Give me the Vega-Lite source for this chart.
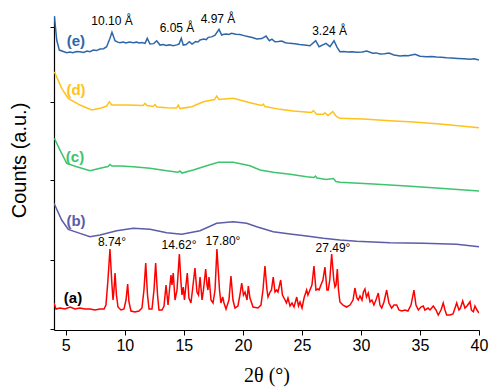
{
  "$schema": "https://vega.github.io/schema/vega-lite/v6.json",
  "width": 425,
  "height": 314,
  "autosize": {"type": "none"},
  "padding": {"left": 54, "top": 16, "right": 13, "bottom": 61},
  "background": "white",
  "config": {
    "view": {"stroke": null},
    "axis": {"domainColor": "#000", "tickColor": "#000", "labelColor": "#000", "titleColor": "#000", "grid": false, "domainWidth": 1.2, "tickWidth": 1}
  },
  "datasets": {
    "curves": [
      {"s":"a","x":4.00,"y":0.929},{"s":"a","x":4.17,"y":0.787},{"s":"a","x":4.51,"y":0.810},{"s":"a","x":4.93,"y":0.787},{"s":"a","x":5.36,"y":0.834},{"s":"a","x":5.78,"y":0.787},{"s":"a","x":6.20,"y":0.810},{"s":"a","x":6.63,"y":0.787},{"s":"a","x":7.05,"y":0.787},{"s":"a","x":7.47,"y":0.763},{"s":"a","x":7.90,"y":0.787},{"s":"a","x":8.24,"y":0.787},{"s":"a","x":8.40,"y":0.881},{"s":"a","x":8.57,"y":1.474},{"s":"a","x":8.74,"y":2.209},{"s":"a","x":8.91,"y":1.356},{"s":"a","x":9.00,"y":1.000},{"s":"a","x":9.08,"y":1.237},{"s":"a","x":9.17,"y":1.640},{"s":"a","x":9.29,"y":1.119},{"s":"a","x":9.42,"y":0.834},{"s":"a","x":9.67,"y":0.763},{"s":"a","x":9.93,"y":0.787},{"s":"a","x":10.10,"y":1.000},{"s":"a","x":10.24,"y":1.379},{"s":"a","x":10.35,"y":0.953},{"s":"a","x":10.52,"y":0.739},{"s":"a","x":10.86,"y":0.715},{"s":"a","x":11.20,"y":0.739},{"s":"a","x":11.45,"y":0.810},{"s":"a","x":11.62,"y":1.237},{"s":"a","x":11.77,"y":1.877},{"s":"a","x":11.92,"y":1.119},{"s":"a","x":12.05,"y":0.787},{"s":"a","x":12.30,"y":0.787},{"s":"a","x":12.47,"y":1.237},{"s":"a","x":12.61,"y":1.877},{"s":"a","x":12.77,"y":1.119},{"s":"a","x":12.89,"y":0.763},{"s":"a","x":13.15,"y":0.763},{"s":"a","x":13.32,"y":0.858},{"s":"a","x":13.49,"y":1.356},{"s":"a","x":13.66,"y":0.881},{"s":"a","x":13.78,"y":1.237},{"s":"a","x":13.91,"y":1.593},{"s":"a","x":13.99,"y":1.356},{"s":"a","x":14.10,"y":1.640},{"s":"a","x":14.25,"y":1.000},{"s":"a","x":14.42,"y":1.237},{"s":"a","x":14.62,"y":2.091},{"s":"a","x":14.76,"y":1.403},{"s":"a","x":14.84,"y":1.119},{"s":"a","x":14.95,"y":1.308},{"s":"a","x":15.05,"y":1.000},{"s":"a","x":15.18,"y":1.356},{"s":"a","x":15.29,"y":1.640},{"s":"a","x":15.43,"y":1.047},{"s":"a","x":15.60,"y":0.929},{"s":"a","x":15.73,"y":1.237},{"s":"a","x":15.94,"y":1.759},{"s":"a","x":16.11,"y":1.190},{"s":"a","x":16.24,"y":1.119},{"s":"a","x":16.37,"y":1.545},{"s":"a","x":16.54,"y":1.000},{"s":"a","x":16.66,"y":1.237},{"s":"a","x":16.85,"y":1.735},{"s":"a","x":16.96,"y":1.356},{"s":"a","x":17.04,"y":1.237},{"s":"a","x":17.13,"y":1.545},{"s":"a","x":17.30,"y":1.000},{"s":"a","x":17.47,"y":0.929},{"s":"a","x":17.64,"y":1.237},{"s":"a","x":17.80,"y":2.209},{"s":"a","x":18.02,"y":1.237},{"s":"a","x":18.14,"y":0.929},{"s":"a","x":18.29,"y":1.071},{"s":"a","x":18.40,"y":0.929},{"s":"a","x":18.57,"y":0.787},{"s":"a","x":18.82,"y":1.000},{"s":"a","x":18.99,"y":1.569},{"s":"a","x":19.16,"y":1.000},{"s":"a","x":19.33,"y":0.810},{"s":"a","x":19.58,"y":0.858},{"s":"a","x":19.75,"y":1.119},{"s":"a","x":19.90,"y":1.403},{"s":"a","x":20.05,"y":1.119},{"s":"a","x":20.18,"y":1.190},{"s":"a","x":20.35,"y":1.000},{"s":"a","x":20.46,"y":1.332},{"s":"a","x":20.60,"y":1.047},{"s":"a","x":20.86,"y":0.834},{"s":"a","x":21.28,"y":0.810},{"s":"a","x":21.53,"y":0.881},{"s":"a","x":21.70,"y":1.237},{"s":"a","x":21.87,"y":1.806},{"s":"a","x":22.04,"y":1.237},{"s":"a","x":22.13,"y":1.071},{"s":"a","x":22.30,"y":1.190},{"s":"a","x":22.42,"y":1.237},{"s":"a","x":22.57,"y":1.545},{"s":"a","x":22.72,"y":1.190},{"s":"a","x":22.86,"y":1.237},{"s":"a","x":22.97,"y":1.190},{"s":"a","x":23.20,"y":1.474},{"s":"a","x":23.35,"y":1.119},{"s":"a","x":23.57,"y":1.000},{"s":"a","x":23.69,"y":0.929},{"s":"a","x":23.82,"y":1.047},{"s":"a","x":23.99,"y":0.858},{"s":"a","x":24.16,"y":0.929},{"s":"a","x":24.33,"y":0.834},{"s":"a","x":24.56,"y":1.071},{"s":"a","x":24.71,"y":0.858},{"s":"a","x":24.84,"y":0.953},{"s":"a","x":25.01,"y":0.810},{"s":"a","x":25.18,"y":1.047},{"s":"a","x":25.40,"y":1.237},{"s":"a","x":25.51,"y":1.119},{"s":"a","x":25.68,"y":1.237},{"s":"a","x":25.85,"y":1.356},{"s":"a","x":26.02,"y":1.806},{"s":"a","x":26.19,"y":1.237},{"s":"a","x":26.36,"y":1.261},{"s":"a","x":26.45,"y":1.237},{"s":"a","x":26.61,"y":1.356},{"s":"a","x":26.78,"y":1.474},{"s":"a","x":26.95,"y":1.782},{"s":"a","x":27.12,"y":1.237},{"s":"a","x":27.23,"y":1.237},{"s":"a","x":27.36,"y":1.474},{"s":"a","x":27.52,"y":2.091},{"s":"a","x":27.70,"y":1.474},{"s":"a","x":27.80,"y":1.308},{"s":"a","x":27.89,"y":1.356},{"s":"a","x":28.00,"y":1.735},{"s":"a","x":28.10,"y":1.237},{"s":"a","x":28.22,"y":0.953},{"s":"a","x":28.48,"y":0.881},{"s":"a","x":28.79,"y":0.834},{"s":"a","x":29.07,"y":0.881},{"s":"a","x":29.33,"y":1.000},{"s":"a","x":29.49,"y":1.285},{"s":"a","x":29.66,"y":1.047},{"s":"a","x":29.77,"y":1.000},{"s":"a","x":29.92,"y":1.095},{"s":"a","x":30.09,"y":1.000},{"s":"a","x":30.21,"y":1.190},{"s":"a","x":30.34,"y":1.261},{"s":"a","x":30.47,"y":1.071},{"s":"a","x":30.62,"y":1.166},{"s":"a","x":30.77,"y":0.953},{"s":"a","x":30.93,"y":1.000},{"s":"a","x":31.10,"y":0.881},{"s":"a","x":31.27,"y":1.000},{"s":"a","x":31.47,"y":1.166},{"s":"a","x":31.61,"y":0.881},{"s":"a","x":31.76,"y":0.810},{"s":"a","x":31.95,"y":0.953},{"s":"a","x":32.18,"y":1.237},{"s":"a","x":32.37,"y":0.929},{"s":"a","x":32.60,"y":0.810},{"s":"a","x":32.80,"y":0.881},{"s":"a","x":33.03,"y":0.881},{"s":"a","x":33.22,"y":0.763},{"s":"a","x":33.45,"y":0.739},{"s":"a","x":33.73,"y":0.763},{"s":"a","x":33.98,"y":0.739},{"s":"a","x":34.24,"y":0.881},{"s":"a","x":34.49,"y":1.237},{"s":"a","x":34.66,"y":0.881},{"s":"a","x":34.86,"y":0.763},{"s":"a","x":35.08,"y":0.834},{"s":"a","x":35.28,"y":0.858},{"s":"a","x":35.42,"y":0.763},{"s":"a","x":35.68,"y":0.810},{"s":"a","x":35.85,"y":0.763},{"s":"a","x":36.13,"y":0.858},{"s":"a","x":36.36,"y":0.763},{"s":"a","x":36.55,"y":0.644},{"s":"a","x":36.78,"y":0.763},{"s":"a","x":36.97,"y":0.929},{"s":"a","x":37.12,"y":0.763},{"s":"a","x":37.26,"y":0.644},{"s":"a","x":37.54,"y":0.644},{"s":"a","x":37.80,"y":0.668},{"s":"a","x":38.11,"y":0.929},{"s":"a","x":38.30,"y":0.763},{"s":"a","x":38.43,"y":0.810},{"s":"a","x":38.62,"y":0.976},{"s":"a","x":38.81,"y":0.810},{"s":"a","x":38.98,"y":0.858},{"s":"a","x":39.24,"y":0.960},{"s":"a","x":39.36,"y":0.763},{"s":"a","x":39.52,"y":0.723},{"s":"a","x":39.66,"y":0.858},{"s":"a","x":39.83,"y":0.763},{"s":"a","x":40.00,"y":0.692},

      {"s":"b","x":4.00,"y":3.293},{"s":"b","x":4.65,"y":2.897},{"s":"b","x":5.21,"y":2.676},{"s":"b","x":6.20,"y":2.581},{"s":"b","x":7.05,"y":2.501},{"s":"b","x":7.90,"y":2.541},{"s":"b","x":9.31,"y":2.643},{"s":"b","x":10.72,"y":2.700},{"s":"b","x":12.13,"y":2.676},{"s":"b","x":13.55,"y":2.596},{"s":"b","x":14.82,"y":2.558},{"s":"b","x":16.37,"y":2.643},{"s":"b","x":17.78,"y":2.819},{"s":"b","x":19.19,"y":2.857},{"s":"b","x":20.32,"y":2.819},{"s":"b","x":21.17,"y":2.738},{"s":"b","x":22.57,"y":2.619},{"s":"b","x":23.99,"y":2.565},{"s":"b","x":25.40,"y":2.517},{"s":"b","x":26.81,"y":2.463},{"s":"b","x":28.22,"y":2.423},{"s":"b","x":29.64,"y":2.392},{"s":"b","x":32.46,"y":2.359},{"s":"b","x":35.28,"y":2.344},{"s":"b","x":38.11,"y":2.321},{"s":"b","x":40.00,"y":2.264},

      {"s":"c","x":4.03,"y":4.834},{"s":"c","x":4.51,"y":4.556},{"s":"c","x":5.08,"y":4.241},{"s":"c","x":5.92,"y":4.161},{"s":"c","x":7.05,"y":4.066},{"s":"c","x":7.90,"y":4.123},{"s":"c","x":8.57,"y":4.165},{"s":"c","x":8.74,"y":4.213},{"s":"c","x":8.91,"y":4.177},{"s":"c","x":9.59,"y":4.177},{"s":"c","x":10.72,"y":4.161},{"s":"c","x":12.13,"y":4.123},{"s":"c","x":13.55,"y":4.066},{"s":"c","x":14.50,"y":4.028},{"s":"c","x":14.67,"y":4.059},{"s":"c","x":14.84,"y":4.011},{"s":"c","x":15.80,"y":4.082},{"s":"c","x":16.93,"y":4.184},{"s":"c","x":17.92,"y":4.265},{"s":"c","x":19.19,"y":4.265},{"s":"c","x":20.60,"y":4.184},{"s":"c","x":21.45,"y":4.082},{"s":"c","x":22.57,"y":4.028},{"s":"c","x":23.99,"y":3.980},{"s":"c","x":25.40,"y":3.923},{"s":"c","x":26.02,"y":3.904},{"s":"c","x":26.15,"y":3.940},{"s":"c","x":26.28,"y":3.893},{"s":"c","x":27.04,"y":3.857},{"s":"c","x":27.66,"y":3.881},{"s":"c","x":27.89,"y":3.810},{"s":"c","x":28.22,"y":3.791},{"s":"c","x":31.04,"y":3.750},{"s":"c","x":33.87,"y":3.703},{"s":"c","x":36.69,"y":3.648},{"s":"c","x":40.00,"y":3.584},

      {"s":"d","x":4.03,"y":6.413},{"s":"d","x":4.65,"y":6.019},{"s":"d","x":5.21,"y":5.782},{"s":"d","x":6.20,"y":5.623},{"s":"d","x":7.19,"y":5.505},{"s":"d","x":7.90,"y":5.545},{"s":"d","x":8.46,"y":5.600},{"s":"d","x":8.68,"y":5.702},{"s":"d","x":8.89,"y":5.623},{"s":"d","x":10.16,"y":5.623},{"s":"d","x":11.54,"y":5.612},{"s":"d","x":11.71,"y":5.664},{"s":"d","x":11.88,"y":5.612},{"s":"d","x":12.39,"y":5.588},{"s":"d","x":12.55,"y":5.635},{"s":"d","x":12.72,"y":5.576},{"s":"d","x":13.55,"y":5.559},{"s":"d","x":14.38,"y":5.552},{"s":"d","x":14.53,"y":5.623},{"s":"d","x":14.67,"y":5.540},{"s":"d","x":15.66,"y":5.583},{"s":"d","x":16.65,"y":5.702},{"s":"d","x":17.59,"y":5.754},{"s":"d","x":17.78,"y":5.837},{"s":"d","x":17.98,"y":5.754},{"s":"d","x":19.19,"y":5.782},{"s":"d","x":20.60,"y":5.678},{"s":"d","x":21.58,"y":5.612},{"s":"d","x":21.73,"y":5.647},{"s":"d","x":21.87,"y":5.588},{"s":"d","x":23.14,"y":5.521},{"s":"d","x":24.27,"y":5.481},{"s":"d","x":25.81,"y":5.446},{"s":"d","x":25.96,"y":5.493},{"s":"d","x":26.25,"y":5.403},{"s":"d","x":26.83,"y":5.403},{"s":"d","x":26.95,"y":5.441},{"s":"d","x":27.21,"y":5.374},{"s":"d","x":27.61,"y":5.469},{"s":"d","x":27.94,"y":5.346},{"s":"d","x":28.22,"y":5.308},{"s":"d","x":30.20,"y":5.292},{"s":"d","x":32.46,"y":5.251},{"s":"d","x":34.43,"y":5.220},{"s":"d","x":36.69,"y":5.173},{"s":"d","x":40.00,"y":5.085},

      {"s":"e","x":4.03,"y":7.734},{"s":"e","x":4.23,"y":7.165},{"s":"e","x":4.45,"y":6.927},{"s":"e","x":5.08,"y":6.863},{"s":"e","x":5.35,"y":6.880},{"s":"e","x":5.60,"y":6.865},{"s":"e","x":5.90,"y":6.895},{"s":"e","x":6.20,"y":6.887},{"s":"e","x":6.50,"y":6.870},{"s":"e","x":6.80,"y":6.905},{"s":"e","x":7.05,"y":6.890},{"s":"e","x":7.33,"y":6.927},{"s":"e","x":7.60,"y":6.915},{"s":"e","x":7.90,"y":6.950},{"s":"e","x":8.20,"y":6.960},{"s":"e","x":8.46,"y":7.006},{"s":"e","x":8.74,"y":7.205},{"s":"e","x":8.91,"y":7.347},{"s":"e","x":9.17,"y":7.148},{"s":"e","x":9.40,"y":7.115},{"s":"e","x":9.59,"y":7.101},{"s":"e","x":9.85,"y":7.120},{"s":"e","x":10.10,"y":7.095},{"s":"e","x":10.40,"y":7.118},{"s":"e","x":10.72,"y":7.101},{"s":"e","x":11.00,"y":7.115},{"s":"e","x":11.20,"y":7.095},{"s":"e","x":11.45,"y":7.105},{"s":"e","x":11.71,"y":7.086},{"s":"e","x":11.90,"y":7.205},{"s":"e","x":12.13,"y":7.070},{"s":"e","x":12.45,"y":7.080},{"s":"e","x":12.70,"y":7.148},{"s":"e","x":12.98,"y":7.046},{"s":"e","x":13.25,"y":7.060},{"s":"e","x":13.50,"y":7.035},{"s":"e","x":13.80,"y":7.050},{"s":"e","x":14.10,"y":7.029},{"s":"e","x":14.40,"y":7.050},{"s":"e","x":14.59,"y":7.070},{"s":"e","x":14.78,"y":7.205},{"s":"e","x":14.95,"y":7.046},{"s":"e","x":15.20,"y":7.060},{"s":"e","x":15.46,"y":7.124},{"s":"e","x":15.69,"y":7.070},{"s":"e","x":16.00,"y":7.130},{"s":"e","x":16.20,"y":7.120},{"s":"e","x":16.37,"y":7.165},{"s":"e","x":16.70,"y":7.190},{"s":"e","x":16.90,"y":7.175},{"s":"e","x":17.07,"y":7.229},{"s":"e","x":17.35,"y":7.240},{"s":"e","x":17.64,"y":7.283},{"s":"e","x":17.98,"y":7.418},{"s":"e","x":18.20,"y":7.283},{"s":"e","x":18.40,"y":7.300},{"s":"e","x":18.60,"y":7.310},{"s":"e","x":18.80,"y":7.295},{"s":"e","x":19.05,"y":7.323},{"s":"e","x":19.40,"y":7.300},{"s":"e","x":19.75,"y":7.295},{"s":"e","x":20.10,"y":7.270},{"s":"e","x":20.40,"y":7.250},{"s":"e","x":20.80,"y":7.225},{"s":"e","x":21.17,"y":7.188},{"s":"e","x":21.60,"y":7.200},{"s":"e","x":21.96,"y":7.259},{"s":"e","x":22.24,"y":7.148},{"s":"e","x":22.46,"y":7.188},{"s":"e","x":22.72,"y":7.124},{"s":"e","x":23.00,"y":7.130},{"s":"e","x":23.29,"y":7.141},{"s":"e","x":23.60,"y":7.100},{"s":"e","x":23.99,"y":7.086},{"s":"e","x":24.40,"y":7.075},{"s":"e","x":24.80,"y":7.060},{"s":"e","x":25.20,"y":7.050},{"s":"e","x":25.68,"y":7.029},{"s":"e","x":26.17,"y":7.148},{"s":"e","x":26.45,"y":7.006},{"s":"e","x":27.04,"y":7.086},{"s":"e","x":27.38,"y":7.010},{"s":"e","x":27.72,"y":7.148},{"s":"e","x":27.97,"y":6.999},{"s":"e","x":28.22,"y":6.887},{"s":"e","x":28.55,"y":6.895},{"s":"e","x":28.90,"y":6.880},{"s":"e","x":29.25,"y":6.890},{"s":"e","x":29.64,"y":6.873},{"s":"e","x":30.10,"y":6.880},{"s":"e","x":30.49,"y":6.904},{"s":"e","x":31.00,"y":6.850},{"s":"e","x":31.30,"y":6.860},{"s":"e","x":31.61,"y":6.833},{"s":"e","x":32.00,"y":6.840},{"s":"e","x":32.37,"y":6.856},{"s":"e","x":32.80,"y":6.810},{"s":"e","x":33.31,"y":6.785},{"s":"e","x":33.70,"y":6.800},{"s":"e","x":34.00,"y":6.790},{"s":"e","x":34.58,"y":6.826},{"s":"e","x":35.00,"y":6.780},{"s":"e","x":35.57,"y":6.769},{"s":"e","x":36.00,"y":6.775},{"s":"e","x":36.40,"y":6.760},{"s":"e","x":36.80,"y":6.755},{"s":"e","x":37.26,"y":6.745},{"s":"e","x":37.70,"y":6.740},{"s":"e","x":38.20,"y":6.730},{"s":"e","x":38.70,"y":6.720},{"s":"e","x":39.24,"y":6.707},{"s":"e","x":39.60,"y":6.720},{"s":"e","x":40.00,"y":6.690}
    ],
    "serieslabels": [
      {"s":"e","x":5.86,"y":7.14,"t":"(e)"},
      {"s":"d","x":5.86,"y":5.98,"t":"(d)"},
      {"s":"c","x":5.78,"y":4.39,"t":"(c)"},
      {"s":"b","x":5.86,"y":2.87,"t":"(b)"}
    ],
    "alabel": [
      {"s":"a","x":5.61,"y":1.05,"t":"(a)"}
    ],
    "peaks": [
      {"x":8.91,"y":7.62,"t":"10.10 Å"},
      {"x":14.42,"y":7.46,"t":"6.05 Å"},
      {"x":17.89,"y":7.66,"t":"4.97 Å"},
      {"x":27.34,"y":7.39,"t":"3.24 Å"},
      {"x":8.91,"y":2.375,"t":"8.74°"},
      {"x":14.59,"y":2.30,"t":"14.62°"},
      {"x":18.31,"y":2.40,"t":"17.80°"},
      {"x":27.63,"y":2.23,"t":"27.49°"}
    ]
  },
  "layer": [
    {
      "data": {"name": "curves"},
      "mark": {"type": "line", "strokeWidth": 1.5, "clip": true},
      "encoding": {
        "x": {
          "field": "x", "type": "quantitative",
          "scale": {"domain": [4, 40], "nice": false, "zero": false},
          "axis": {
            "title": "2θ (°)",
            "titleFont": "Liberation Serif", "titleFontSize": 20, "titleFontWeight": "normal", "titlePadding": 12,
            "labelFont": "Liberation Sans", "labelFontSize": 16, "labelPadding": 2,
            "values": [5, 7.5, 10, 12.5, 15, 17.5, 20, 22.5, 25, 27.5, 30, 32.5, 35, 37.5, 40],
            "labelExpr": "datum.value % 5 === 0 ? datum.label : ''",
            "tickSize": {"condition": {"test": "datum.value % 5 === 0", "value": 5}, "value": 3},
            "labelFlush": false
          }
        },
        "y": {
          "field": "y", "type": "quantitative",
          "scale": {"domain": [0.289, 7.735], "nice": false, "zero": false},
          "axis": {
            "title": "Counts (a.u.)",
            "titleFont": "Liberation Sans", "titleFontSize": 20, "titleFontWeight": "normal", "titlePadding": 20,
            "titleY": 144,
            "labels": false,
            "values": [0.301,0.477,0.602,0.699,0.778,0.845,0.903,0.954,1,1.301,1.477,1.602,1.699,1.778,1.845,1.903,1.954,2,2.301,2.477,2.602,2.699,2.778,2.845,2.903,2.954,3,3.301,3.477,3.602,3.699,3.778,3.845,3.903,3.954,4,4.301,4.477,4.602,4.699,4.778,4.845,4.903,4.954,5,5.301,5.477,5.602,5.699,5.778,5.845,5.903,5.954,6,6.301,6.477,6.602,6.699,6.778,6.845,6.903,6.954,7,7.301,7.477,7.602,7.699],
            "tickSize": {"condition": {"test": "abs(datum.value - round(datum.value)) < 0.001", "value": 6}, "value": 4}
          }
        },
        "color": {
          "field": "s", "type": "nominal",
          "scale": {"domain": ["a","b","c","d","e"], "range": ["#ff0000","#5c5ca8","#3dc46e","#ffc21a","#2f66a8"]},
          "legend": null
        }
      }
    },
    {
      "data": {"name": "serieslabels"},
      "mark": {"type": "text", "font": "Liberation Sans", "fontSize": 15, "fontWeight": "bold", "align": "center", "baseline": "middle"},
      "encoding": {
        "x": {"field": "x", "type": "quantitative"},
        "y": {"field": "y", "type": "quantitative"},
        "text": {"field": "t"},
        "color": {"field": "s", "type": "nominal", "legend": null}
      }
    },
    {
      "data": {"name": "alabel"},
      "mark": {"type": "text", "font": "Liberation Sans", "fontSize": 15, "fontWeight": "bold", "align": "center", "baseline": "middle", "color": "#000"},
      "encoding": {
        "x": {"field": "x", "type": "quantitative"},
        "y": {"field": "y", "type": "quantitative"},
        "text": {"field": "t"}
      }
    },
    {
      "data": {"name": "peaks"},
      "mark": {"type": "text", "font": "Liberation Sans", "fontSize": 12, "align": "center", "baseline": "middle", "color": "#000"},
      "encoding": {
        "x": {"field": "x", "type": "quantitative"},
        "y": {"field": "y", "type": "quantitative"},
        "text": {"field": "t"}
      }
    }
  ]
}
